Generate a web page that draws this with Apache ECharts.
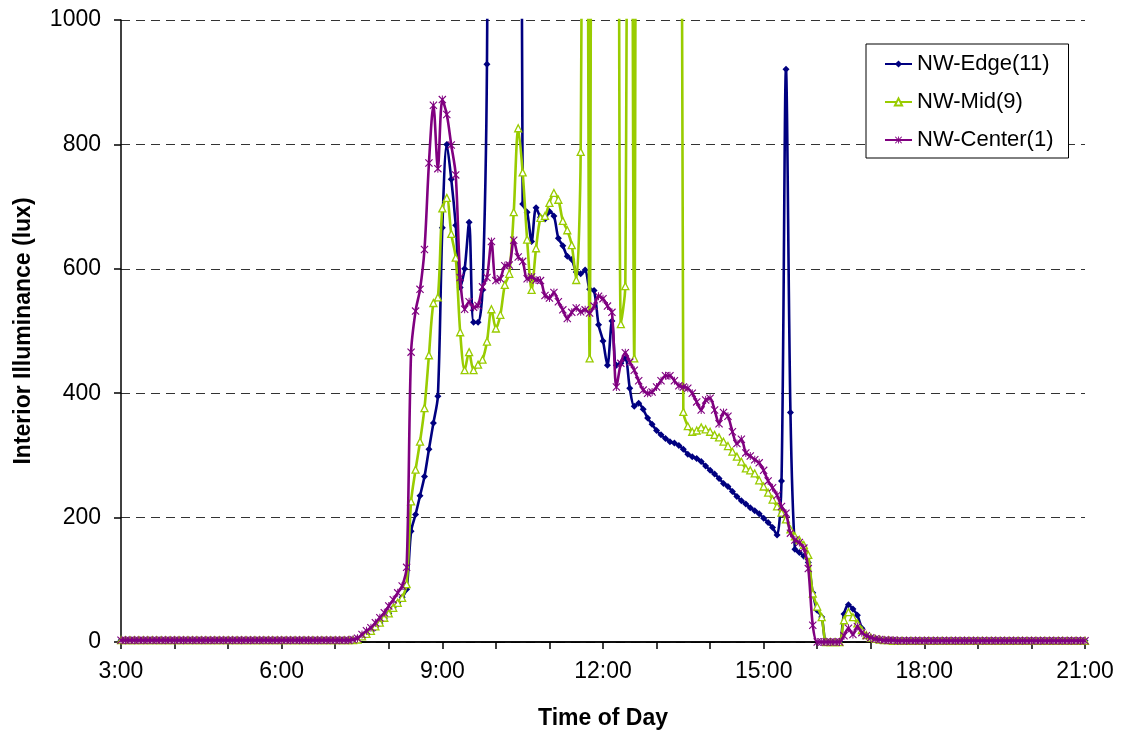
<!DOCTYPE html>
<html><head><meta charset="utf-8">
<script src="https://cdn.jsdelivr.net/npm/echarts@6/dist/echarts.min.js"></script>
<style>html,body{margin:0;padding:0;background:#fff}#c{width:1122px;height:735px}</style>
</head><body><div id="c"></div>
<script>
// sampling grid: one reading every 5 minutes from 3:00 to 21:00
const startHour = 3;
const stepMinutes = 5;
const xTickLabels = ['3:00','6:00','9:00','12:00','15:00','18:00','21:00'];
const yTicks = [0, 200, 400, 600, 800, 1000];
const seriesNames = ['NW-Edge(11)', 'NW-Mid(9)', 'NW-Center(1)'];
// values beyond 1000 lux run off the top of the chart (shown as 2500)
const edge = [
  3,3,3,3,3,3,3,3,3,3,3,3,
  3,3,3,3,3,3,3,3,3,3,3,3,
  3,3,3,3,3,3,3,3,3,3,3,3,
  3,3,3,3,3,3,3,3,3,3,3,3,
  3,3,3,3,3,4,8,12,17,23,30,38,
  46,55,63,72,85,178,205,235,266,310,352,395,
  666,800,744,670,570,600,675,514,514,566,929,2500,
  2500,2500,2500,2500,2500,2500,704,691,644,698,683,680,
  692,685,649,637,620,615,595,592,598,567,565,510,
  484,445,516,445,448,456,408,379,384,374,360,350,
  340,333,327,322,320,316,310,302,298,295,290,283,
  276,270,263,255,250,242,234,227,222,216,211,206,
  199,192,184,172,259,921,369,149,144,138,128,79,
  51,40,0,0,0,0,45,60,53,43,22,10,
  7,5,4,3,3,2,2,2,2,2,2,2,
  2,2,2,2,2,2,2,2,2,2,2,2,
  2,2,2,2,2,2,2,2,2,2,2,2,
  2,2,2,2,2,2,2,2,2,2,2,2,
  2
];
const mid = [
  3,3,3,3,3,3,3,3,3,3,3,3,
  3,3,3,3,3,3,3,3,3,3,3,3,
  3,3,3,3,3,3,3,3,3,3,3,3,
  3,3,3,3,3,3,3,3,3,3,3,3,
  3,3,3,3,3,4,9,13,18,25,31,39,
  46,55,63,71,93,226,277,322,376,461,545,554,
  697,714,656,618,498,437,466,437,446,454,483,535,
  504,526,574,592,691,826,755,647,566,633,682,685,
  706,722,711,677,662,638,582,788,2500,456,2500,2500,
  2500,2500,2500,2500,511,572,2500,456,2500,2500,2500,2500,
  2500,2500,2500,2500,2500,2500,370,347,338,340,345,342,
  338,333,329,322,315,306,298,290,279,276,271,260,
  250,240,229,218,208,197,181,170,164,156,140,78,
  57,40,0,0,0,0,35,48,40,30,19,11,
  7,5,4,3,3,2,2,2,2,2,2,2,
  2,2,2,2,2,2,2,2,2,2,2,2,
  2,2,2,2,2,2,2,2,2,2,2,2,
  2,2,2,2,2,2,2,2,2,2,2,2,
  2
];
const center = [
  3,3,3,3,3,3,3,3,3,3,3,3,
  3,3,3,3,3,3,3,3,3,3,3,3,
  3,3,3,3,3,3,3,3,3,3,3,3,
  3,3,3,3,3,3,3,3,3,3,3,3,
  3,3,3,3,4,6,12,18,23,31,39,47,
  58,68,79,90,120,466,532,567,631,770,863,761,
  872,848,799,751,586,535,547,538,541,571,586,644,
  581,584,605,606,646,619,612,584,587,582,581,557,
  553,562,547,534,520,530,537,531,534,529,540,556,
  552,540,530,410,448,465,450,437,420,405,400,402,
  410,420,428,428,420,412,410,408,400,386,373,389,
  392,373,351,369,363,338,319,326,304,299,293,288,
  276,259,248,236,218,207,175,164,160,151,118,27,
  0,0,0,0,0,0,10,22,12,25,15,10,
  7,5,4,3,3,3,2,2,2,2,2,2,
  2,2,2,2,2,2,2,2,2,2,2,2,
  2,2,2,2,2,2,2,2,2,2,2,2,
  2,2,2,2,2,2,2,2,2,2,2,2,
  2
];

const toPairs = arr => arr.map((v, i) => [startHour + i * stepMinutes / 60, v]);
const FONT = 'Liberation Sans, Arial, sans-serif';
const starPath = 'path://M0,1L1,0L10,9L9,10Z M9,0L10,1L1,10L0,9Z M4.4,0L5.6,0L5.6,10L4.4,10Z';

const chart = echarts.init(document.getElementById('c'), null, {renderer: 'canvas'});
chart.setOption({
  animation: false,
  backgroundColor: '#fff',
  grid: {left: 121, right: 37, top: 20, bottom: 93, containLabel: false},
  legend: {
    data: seriesNames, orient: 'vertical', left: 866, top: 44,
    padding: [9, 15, 7, 18], itemGap: 16, itemWidth: 27, itemHeight: 9,
    borderColor: '#000', borderWidth: 1, backgroundColor: '#fff',
    textStyle: {fontSize: 22, fontFamily: FONT, color: '#000'}
  },
  xAxis: [{
    type: 'value', min: 3, max: 21, interval: 1,
    name: 'Time of Day', nameLocation: 'middle', nameGap: 65,
    nameTextStyle: {fontSize: 23, fontWeight: 'bold', fontFamily: FONT, color: '#000'},
    axisLine: {show: true, onZero: false, lineStyle: {color: '#000', width: 1.5}},
    axisTick: {show: true, inside: false, length: 7, lineStyle: {color: '#000', width: 1.5}},
    axisLabel: {
      fontSize: 23, fontFamily: FONT, color: '#000', margin: 18,
      formatter: v => ((v - startHour) % 3 === 0 ? xTickLabels[(v - startHour) / 3] : '')
    },
    splitLine: {show: false}
  }, {
    type: 'value', position: 'top', min: 3, max: 21,
    axisLine: {show: true, lineStyle: {color: '#000', width: 1.5}},
    axisTick: {show: false}, axisLabel: {show: false}, splitLine: {show: false}
  }],
  yAxis: {
    type: 'value', min: yTicks[0], max: yTicks[yTicks.length - 1], interval: 200,
    name: 'Interior Illuminance (lux)', nameLocation: 'middle', nameGap: 86, nameRotate: 90,
    nameTextStyle: {fontSize: 23, fontWeight: 'bold', fontFamily: FONT, color: '#000'},
    axisLine: {show: true, lineStyle: {color: '#000', width: 1.5}},
    axisTick: {show: true, inside: false, length: 7, lineStyle: {color: '#000', width: 1.5}},
    axisLabel: {fontSize: 23, fontFamily: FONT, color: '#000', margin: 20, formatter: v => String(v)},
    splitLine: {show: true, lineStyle: {color: '#333', width: 1, type: [9, 6]}}
  },
  series: [
    {
      name: seriesNames[0], type: 'line', data: toPairs(edge), smooth: 0.3, clip: true,
      symbol: 'diamond', symbolSize: 7,
      lineStyle: {color: '#000080', width: 2.6},
      itemStyle: {color: '#000080'}, z: 2
    },
    {
      name: seriesNames[1], type: 'line', data: toPairs(mid), smooth: 0.3, clip: true,
      symbol: 'triangle', symbolSize: 7,
      lineStyle: {color: '#99CC00', width: 2.6},
      itemStyle: {color: '#ffffff', borderColor: '#99CC00', borderWidth: 1.3}, z: 3
    },
    {
      name: seriesNames[2], type: 'line', data: toPairs(center), smooth: 0.3, clip: true,
      symbol: starPath, symbolSize: 8,
      lineStyle: {color: '#800080', width: 2.6},
      itemStyle: {color: '#800080'}, z: 4
    }
  ]
});
</script>
</body></html>
